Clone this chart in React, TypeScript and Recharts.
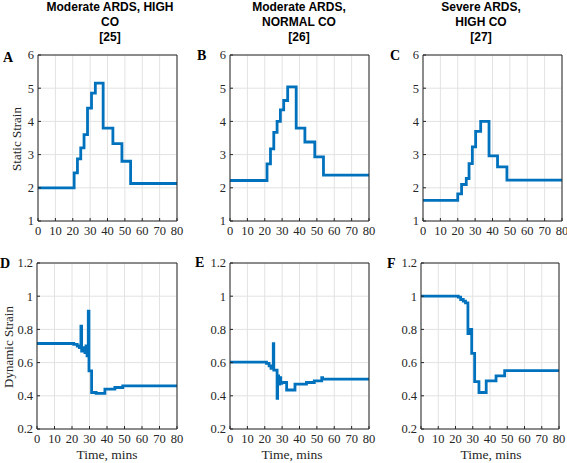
import React from "react";
import { LineChart, Line, XAxis, YAxis, CartesianGrid } from "recharts";

// eje x compartido (minutos) y ticks de cada fila
const timeTicks = [0, 10, 20, 30, 40, 50, 60, 70, 80];
const staticTicks = [1, 2, 3, 4, 5, 6];
const dynamicTicks = [0.2, 0.4, 0.6, 0.8, 1, 1.2];

// A: Moderate ARDS, HIGH CO - static strain (step changes)
const aTime = [0, 20.8, 22.7, 24.6, 26.5, 28.5, 30.8, 33.0, 37.5, 43.1, 48.3, 53.3, 80];
const aStrain = [2.0, 2.45, 2.87, 3.2, 3.6, 4.4, 4.85, 5.15, 3.8, 3.33, 2.8, 2.13, 2.13];

// B: Moderate ARDS, NORMAL CO - static strain
const bTime = [0, 21.3, 23.3, 25.2, 27.1, 29.0, 30.9, 33.2, 38.1, 43.1, 48.8, 53.8, 80];
const bStrain = [2.22, 2.72, 3.17, 3.67, 4.0, 4.35, 4.63, 5.04, 3.8, 3.38, 2.93, 2.38, 2.38];

// C: Severe ARDS, HIGH CO - static strain
const cTime = [0, 20, 22.2, 24.9, 26.5, 28.4, 30.3, 33.2, 38, 42.9, 48.3, 80];
const cStrain = [1.62, 1.82, 2.1, 2.28, 2.73, 3.23, 3.7, 4.0, 2.96, 2.63, 2.23, 2.23];

// D: dynamic strain, moderate / high CO
const dTime = [0, 21, 23, 24.2, 25.1, 25.5, 26.5, 27.4, 28, 28.6, 29.3, 29.7, 31.2, 33.8, 38.8, 44.5, 49, 80];
const dStrain = [0.715, 0.71, 0.7, 0.69, 0.82, 0.67, 0.69, 0.66, 0.7, 0.64, 0.91, 0.55, 0.42, 0.415, 0.44, 0.45, 0.46, 0.46];

// E: dynamic strain, moderate / normal CO
const eTime = [0, 21, 22.5, 23.6, 24.9, 25.2, 27.1, 27.4, 28, 28.6, 29.2, 29.8, 32.6, 37.4, 44, 48.5, 52.8, 53.3, 80];
const eStrain = [0.603, 0.595, 0.58, 0.565, 0.714, 0.555, 0.385, 0.52, 0.47, 0.51, 0.475, 0.48, 0.435, 0.47, 0.48, 0.49, 0.51, 0.5, 0.5];

// F: dynamic strain, severe / high CO
const fTime = [0, 21.6, 23, 24.5, 25.8, 27.2, 28.3, 29.4, 31.1, 33.6, 37.8, 43.5, 48.5, 80];
const fStrain = [1.0, 0.995, 0.98, 0.97, 0.96, 0.775, 0.8, 0.655, 0.485, 0.42, 0.49, 0.52, 0.552, 0.552];

const BLUE = "#0072BD";
const AXIS = "#262626";
const GRID = "#e2e2e2";
const SERIF = "Liberation Serif, Times New Roman, serif";
const SANS = "Liberation Sans, Arial, sans-serif";

const toRows = (t: number[], v: number[]) => t.map((x, i) => ({ t: x, v: v[i] }));

// ticks propios para forzar fuente serif
const BottomTick = (props: any) => (
  <text x={props.x} y={props.y} dy="0.71em" textAnchor="middle" fontFamily={SERIF} fontSize={12.5} fill={AXIS}>
    {props.payload.value}
  </text>
);

const LeftTick = (props: any) => (
  <text x={props.x} y={props.y} dy="0.35em" textAnchor="end" fontFamily={SERIF} fontSize={12.5} fill={AXIS}>
    {props.payload.value}
  </text>
);

interface PanelProps {
  time: number[];
  values: number[];
  left: number;
  top: number;
  width: number;
  height: number;
  yDomain: [number, number];
  yTicks: number[];
}

function Panel({ time, values, left, top, width, height, yDomain, yTicks }: PanelProps) {
  const padL = 30;
  const padT = 9;
  const padR = 9;
  const padB = 24;
  return (
    <div style={{ position: "absolute", left: left - padL, top: top - padT - 1 }}>
      <LineChart
        width={padL + width + 1 + padR}
        height={padT + 1 + height + padB}
        data={toRows(time, values)}
        margin={{ top: padT, right: padR, left: 0, bottom: 0 }}
      >
        <CartesianGrid stroke={GRID} />
        <XAxis
          dataKey="t"
          type="number"
          domain={[0, 80]}
          ticks={timeTicks}
          interval={0}
          height={padB}
          tickSize={-3}
          tickMargin={8}
          stroke={AXIS}
          tick={BottomTick}
        />
        <XAxis
          xAxisId="top"
          orientation="top"
          dataKey="t"
          type="number"
          domain={[0, 80]}
          ticks={timeTicks}
          interval={0}
          height={1}
          tickSize={-3}
          tick={false}
          stroke={AXIS}
        />
        <YAxis
          type="number"
          domain={yDomain}
          ticks={yTicks}
          interval={0}
          width={padL}
          tickSize={-3}
          tickMargin={7}
          stroke={AXIS}
          tick={LeftTick}
        />
        <YAxis
          yAxisId="right"
          orientation="right"
          type="number"
          domain={yDomain}
          ticks={yTicks}
          interval={0}
          width={1}
          tickSize={-3}
          tick={false}
          stroke={AXIS}
        />
        <Line
          type="stepAfter"
          dataKey="v"
          stroke={BLUE}
          strokeWidth={2.8}
          dot={false}
          isAnimationActive={false}
        />
      </LineChart>
    </div>
  );
}

const titles = [
  { x: 110, lines: ["Moderate ARDS, HIGH", "CO", "[25]"] },
  { x: 299, lines: ["Moderate ARDS,", "NORMAL CO", "[26]"] },
  { x: 481, lines: ["Severe ARDS,", "HIGH CO", "[27]"] },
];

const letters = [
  { x: 3, y: 62, s: "A" },
  { x: 197, y: 60, s: "B" },
  { x: 390, y: 60, s: "C" },
  { x: 0, y: 268, s: "D" },
  { x: 195, y: 267, s: "E" },
  { x: 387, y: 268, s: "F" },
];

export default function App() {
  return (
    <div
      style={{
        position: "absolute",
        left: 0,
        top: 0,
        width: 567,
        height: 463,
        background: "#fff",
        overflow: "hidden",
      }}
    >
      <Panel time={aTime} values={aStrain} left={38} top={55} width={139} height={166} yDomain={[1, 6]} yTicks={staticTicks} />
      <Panel time={bTime} values={bStrain} left={230} top={55} width={139} height={166} yDomain={[1, 6]} yTicks={staticTicks} />
      <Panel time={cTime} values={cStrain} left={423} top={55} width={139} height={166} yDomain={[1, 6]} yTicks={staticTicks} />
      <Panel time={dTime} values={dStrain} left={37} top={263} width={140} height={166} yDomain={[0.2, 1.2]} yTicks={dynamicTicks} />
      <Panel time={eTime} values={eStrain} left={230} top={263} width={139} height={166} yDomain={[0.2, 1.2]} yTicks={dynamicTicks} />
      <Panel time={fTime} values={fStrain} left={421} top={263} width={138} height={166} yDomain={[0.2, 1.2]} yTicks={dynamicTicks} />

      <svg
        width={567}
        height={463}
        style={{ position: "absolute", left: 0, top: 0, pointerEvents: "none" }}
      >
        {titles.map((t) =>
          t.lines.map((line, i) => (
            <text
              key={t.x + "-" + i}
              x={t.x}
              y={11 + i * 15}
              textAnchor="middle"
              fontFamily={SANS}
              fontWeight="bold"
              fontSize={12}
              fill="#000"
            >
              {line}
            </text>
          ))
        )}
        {letters.map((l) => (
          <text key={l.s} x={l.x} y={l.y} fontFamily={SERIF} fontWeight="bold" fontSize={14} fill="#000">
            {l.s}
          </text>
        ))}
        <text
          transform="translate(21,139) rotate(-90)"
          textAnchor="middle"
          fontFamily={SERIF}
          fontSize={13}
          fill={AXIS}
        >
          Static Strain
        </text>
        <text
          transform="translate(13,347) rotate(-90)"
          textAnchor="middle"
          fontFamily={SERIF}
          fontSize={13}
          fill={AXIS}
        >
          Dynamic Strain
        </text>
        {[107, 292, 491].map((x) => (
          <text key={x} x={x} y={459} textAnchor="middle" fontFamily={SERIF} fontSize={13.5} fill={AXIS}>
            Time, mins
          </text>
        ))}
      </svg>
    </div>
  );
}
